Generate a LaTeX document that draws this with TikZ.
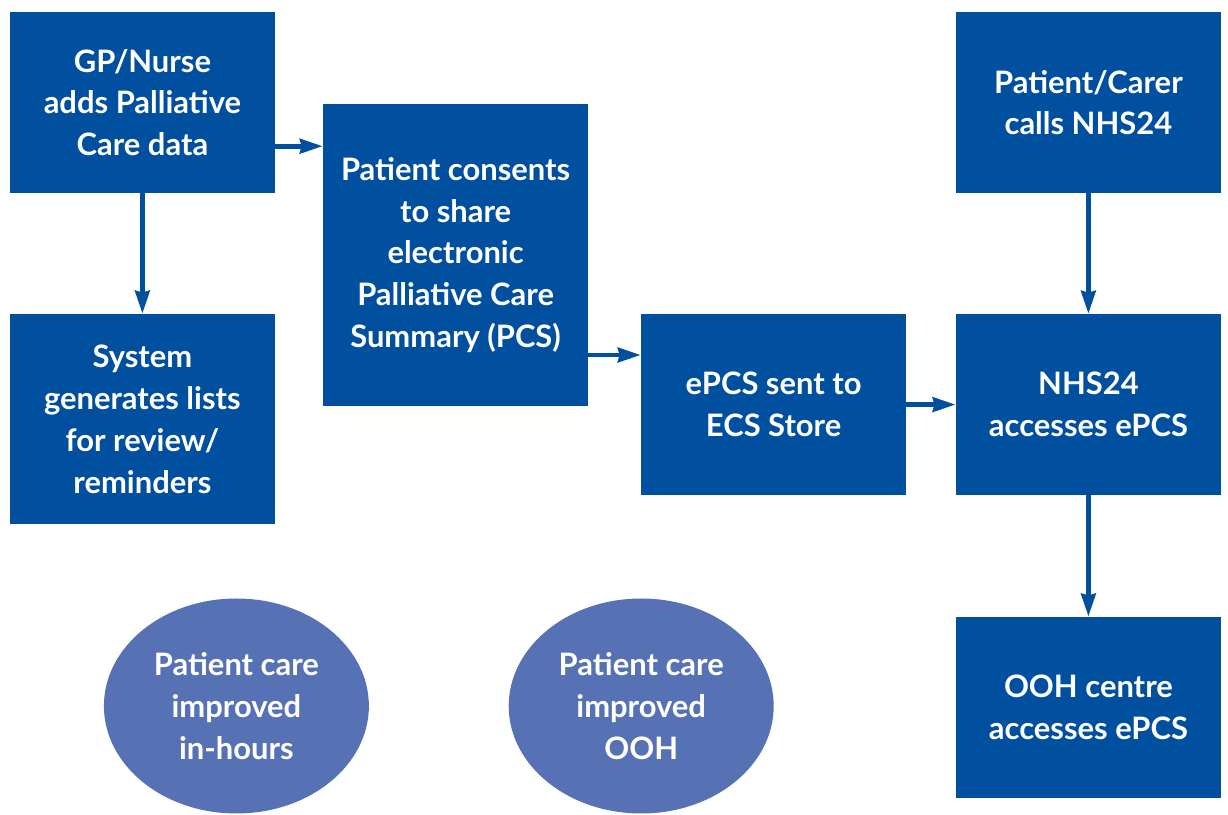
\documentclass[tikz,border=0pt]{standalone}
\usepackage{fontspec}
\setmainfont{Lato}
\usetikzlibrary{arrows.meta,shapes.geometric}
\definecolor{PCSBlue}{HTML}{00509F}
\definecolor{PCSLight}{HTML}{5772B4}

\begin{document}
\begin{tikzpicture}[line cap=butt,line join=miter,
    box/.style={fill=PCSBlue,draw=none,minimum width=6.625cm,minimum height=4.525cm,
      inner sep=0pt,align=center,text=white,font=\bfseries\fontsize{22}{29.8}\selectfont},
    outcome/.style={ellipse,fill=PCSLight,draw=none,minimum width=6.625cm,minimum height=5.375cm,
      inner sep=0pt,align=center,text=white,font=\bfseries\fontsize{22}{29.8}\selectfont},
    flow/.style={-{Stealth[length=0.57cm,width=0.36cm,inset=0.04cm]},draw=PCSBlue,line width=0.12cm}]
  \useasboundingbox (0,0) rectangle (30.7,20.375);
  % in-hours side
  \node[box] (gpnurse) at (3.56,17.81) {GP/Nurse\\adds Palliative\\Care data};
  \node[box,minimum height=5.25cm] (lists) at (3.56,9.90)
    {System\\generates lists\\for review/\\reminders};
  \node[box,minimum height=7.55cm] (consent) at (11.39,14.0)
    {Patient consents\\to share\\electronic\\Palliative Care\\Summary (PCS)};
  \node[box] (sent) at (19.34,10.26) {ePCS sent to\\ECS Store};
  % out of hours side
  \node[box] (caller) at (27.21,17.81) {Patient/Carer\\calls NHS24};
  \node[box] (nhs) at (27.21,10.26) {NHS24\\accesses ePCS};
  \node[box] (ooh) at (27.21,2.69) {OOH centre\\accesses ePCS};
  % outcomes
  \node[outcome] (inhours) at (5.91,2.725) {Patient care\\improved\\in-hours};
  \node[outcome] (outhours) at (16.03,2.725) {Patient care\\improved\\OOH};
  % arrows
  \coordinate (ac) at ([yshift=-1.09cm]gpnurse.east);
  \coordinate (cd) at ([yshift=-2.5cm]consent.east);
  \draw[flow] (ac) -- (ac -| consent.west);
  \draw[flow] (gpnurse) -- (lists);
  \draw[flow] (cd) -- (cd -| sent.west);
  \draw[flow] (sent) -- (nhs);
  \draw[flow] (caller) -- (nhs);
  \draw[flow] (nhs) -- (ooh);
\end{tikzpicture}
\end{document}
